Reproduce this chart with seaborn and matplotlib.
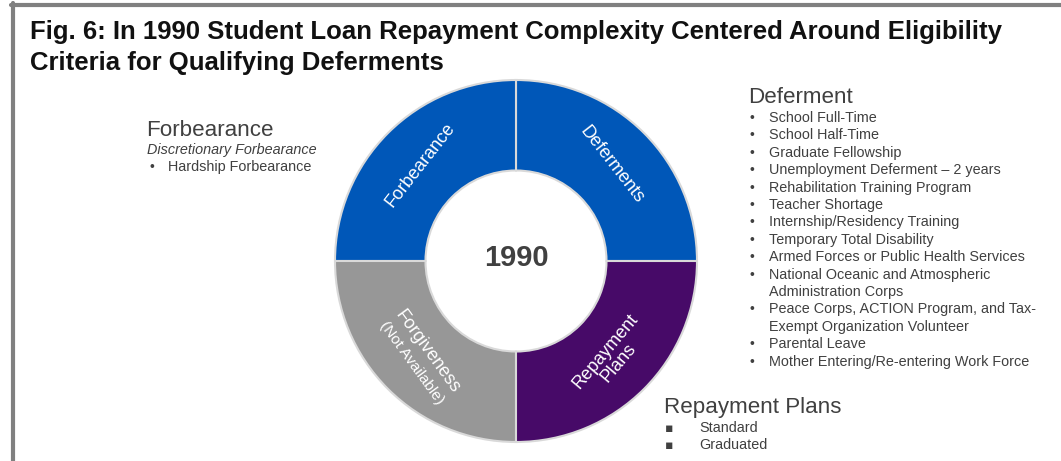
import matplotlib
matplotlib.use("Agg")
import matplotlib.pyplot as plt
import seaborn as sns
import numpy as np
from matplotlib.lines import Line2D

# ---------------- data ----------------
categories = ["Deferments", "Forbearance", "Forgiveness", "Repayment Plans"]
shares = [1, 1, 1, 1]
wedge_labels = ["Deferments", "Forbearance", "Forgiveness\n(Not Available)", "Repayment\nPlans"]
wedge_colors = ["#0057B8", "#0057B8", "#979797", "#470A68"]
center_label = "1990"
title_lines = ["Fig. 6: In 1990 Student Loan Repayment Complexity Centered Around Eligibility",
               "Criteria for Qualifying Deferments"]

deferment_heading = "Deferment"
deferment_items = [
    "School Full-Time",
    "School Half-Time",
    "Graduate Fellowship",
    "Unemployment Deferment \u2013 2 years",
    "Rehabilitation Training Program",
    "Teacher Shortage",
    "Internship/Residency Training",
    "Temporary Total Disability",
    "Armed Forces or Public Health Services",
    "National Oceanic and Atmospheric\nAdministration Corps",
    "Peace Corps, ACTION Program, and Tax-\nExempt Organization Volunteer",
    "Parental Leave",
    "Mother Entering/Re-entering Work Force",
]
forbearance_heading = "Forbearance"
forbearance_sub = "Discretionary Forbearance"
forbearance_items = ["Hardship Forbearance"]
repayment_heading = "Repayment Plans"
repayment_items = ["Standard", "Graduated"]

# ---------------- style ----------------
sns.set_theme(style="white")
plt.rcParams['font.family'] = ['Liberation Sans', 'DejaVu Sans']

W, H = 1061, 461
fig = plt.figure(figsize=(W / 100, H / 100), dpi=100)
fig.patch.set_facecolor("white")


def fx(x):
    return x / W


def fy(y):
    return 1 - y / H


TXT = "#404040"

# frame lines (top and left)
fig.add_artist(Line2D([fx(13), fx(13)], [fy(3), 0], color="#808080", lw=3))
fig.add_artist(Line2D([fx(11), 1], [fy(5), fy(5)], color="#808080", lw=3))

# title
for i, line in enumerate(title_lines):
    fig.text(fx(30), fy(39 + 31 * i), line, fontsize=18.5, fontweight="bold",
             color="#111111", va="baseline", ha="left")

# donut
cx, cy, R = 516, 261, 181
ax = fig.add_axes([fx(cx - R), fy(cy + R), 2 * R / W, 2 * R / H])
wedges, _ = ax.pie(shares, colors=wedge_colors, startangle=0, counterclock=True,
                   radius=1, wedgeprops=dict(width=0.5, edgecolor="#d9d9d9", linewidth=1.5))
for w in wedges:
    w.set_clip_on(False)
ax.set_xlim(-1, 1)
ax.set_ylim(-1, 1)
ax.set_aspect("equal")
ax.axis("off")

rotations = [-52, 52, -54, 50]
for w, lab, rot in zip(wedges, wedge_labels, rotations):
    ang = np.deg2rad((w.theta1 + w.theta2) / 2)
    r = 0.75
    x, y = r * np.cos(ang), r * np.sin(ang)
    lines = lab.split("\n")
    if lab.startswith("Forgiveness"):
        t = np.deg2rad(rot)
        up = np.array([-np.sin(t), np.cos(t)])
        off = 0.05
        ax.text(x + up[0] * off, y + up[1] * off, lines[0], rotation=rot, rotation_mode="anchor",
                ha="center", va="center", color="white", fontsize=13)
        ax.text(x - up[0] * off * 1.2, y - up[1] * off * 1.2, lines[1], rotation=rot, rotation_mode="anchor",
                ha="center", va="center", color="white", fontsize=11)
    else:
        ax.text(x, y, lab, rotation=rot, rotation_mode="anchor", ha="center", va="center",
                multialignment="center", color="white", fontsize=13, linespacing=1.0)

ax.text(0, 0.015, center_label, ha="center", va="center", fontsize=21, fontweight="bold", color=TXT)

# Deferment block
fig.text(fx(748), fy(103), deferment_heading, fontsize=16.1, color=TXT, va="baseline")
yb = 122
step = 17.4
for item in deferment_items:
    for j, ln in enumerate(item.split("\n")):
        if j == 0:
            fig.text(fx(749), fy(yb), "\u2022", fontsize=10, color=TXT, va="baseline")
        fig.text(fx(769), fy(yb), ln, fontsize=10.4, color=TXT, va="baseline")
        yb += step

# Forbearance block
fig.text(fx(146), fy(136), forbearance_heading, fontsize=16.1, color=TXT, va="baseline")
fig.text(fx(147), fy(154), forbearance_sub, fontsize=10.4, color=TXT, va="baseline", style="italic")
for k, it in enumerate(forbearance_items):
    fig.text(fx(149), fy(171 + step * k), "\u2022", fontsize=10, color=TXT, va="baseline")
    fig.text(fx(168), fy(171 + step * k), it, fontsize=10.4, color=TXT, va="baseline")

# Repayment Plans block
fig.text(fx(664), fy(413), repayment_heading, fontsize=16.1, color=TXT, va="baseline")
for k, it in enumerate(repayment_items):
    yy = 432 + 16.5 * k
    fig.text(fx(665), fy(yy), "\u25aa", fontsize=9, color=TXT, va="baseline",
             family=["DejaVu Sans"])
    fig.text(fx(699), fy(yy), it, fontsize=10.4, color=TXT, va="baseline")

fig.savefig("out.png", dpi=100, facecolor="white")
